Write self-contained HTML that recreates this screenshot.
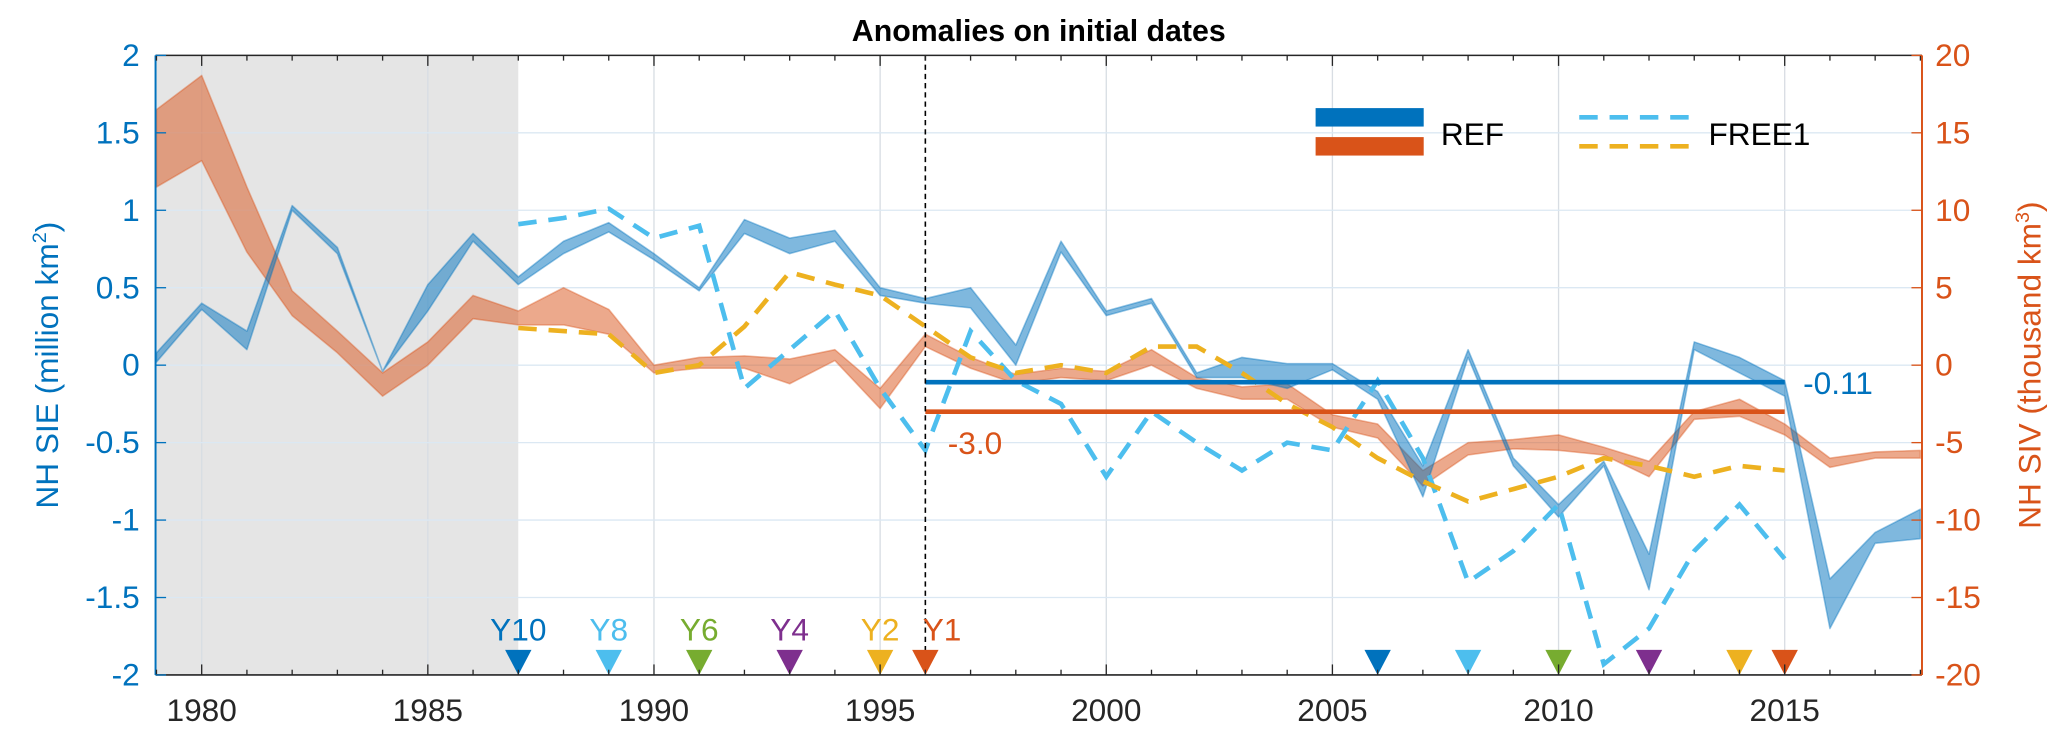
<!DOCTYPE html>
<html><head><meta charset="utf-8"><style>
html,body{margin:0;padding:0;background:#fff;}
svg{display:block;font-family:"Liberation Sans","DejaVu Sans",sans-serif;}
</style></head><body>
<svg id="chart" width="2067" height="743" viewBox="0 0 1568 563.6" preserveAspectRatio="none" xmlns="http://www.w3.org/2000/svg">
<g id="g"></g>
</svg>
<script>
const years = [];
for (let y = 1979; y <= 2018; y++) years.push(y);
const refSieHi = [0.08,0.40,0.22,1.03,0.76,-0.04,0.52,0.85,0.57,0.80,0.92,0.72,0.50,0.94,0.82,0.87,0.50,0.43,0.50,0.13,0.80,0.35,0.43,-0.05,0.05,0.01,0.01,-0.17,-0.65,0.10,-0.60,-0.90,-0.62,-1.22,0.15,0.05,-0.10,-1.38,-1.08,-0.93];
const refSieLo = [0.02,0.36,0.10,1.00,0.72,-0.04,0.35,0.80,0.52,0.72,0.86,0.68,0.48,0.85,0.72,0.80,0.45,0.40,0.37,0.00,0.73,0.32,0.40,-0.08,-0.08,-0.15,-0.03,-0.22,-0.85,0.05,-0.65,-0.98,-0.65,-1.45,0.10,-0.05,-0.20,-1.70,-1.15,-1.12];
const refSivHi = [16.5,18.7,11.5,4.8,2.2,-0.5,1.5,4.5,3.5,5.0,3.6,0.0,0.5,0.6,0.4,1.0,-1.5,2.0,0.5,-0.6,-0.2,-0.4,1.0,-0.8,-1.4,-1.2,-3.2,-3.8,-6.8,-5.0,-4.8,-4.5,-5.3,-6.2,-3.0,-2.2,-3.8,-6.0,-5.6,-5.5];
const refSivLo = [11.5,13.2,7.3,3.2,0.8,-2.0,0.0,3.0,2.6,2.6,2.0,-0.5,-0.2,-0.2,-1.2,0.3,-2.8,1.2,-0.2,-1.2,-0.8,-1.0,0.0,-1.5,-2.2,-2.2,-4.0,-4.7,-7.8,-5.8,-5.4,-5.5,-5.8,-7.2,-3.5,-3.3,-4.5,-6.6,-6.0,-6.0];
const freeYears = [];
for (let y = 1987; y <= 2015; y++) freeYears.push(y);
const freeSie = [0.91,0.95,1.01,0.82,0.90,-0.15,0.10,0.35,-0.15,-0.55,0.22,-0.10,-0.25,-0.72,-0.30,-0.50,-0.68,-0.50,-0.55,-0.10,-0.60,-1.40,-1.20,-0.90,-1.93,-1.70,-1.20,-0.90,-1.25];
const freeSiv = [2.4,2.2,2.0,-0.5,0.0,2.5,6.0,5.2,4.5,2.5,0.5,-0.5,0.0,-0.5,1.2,1.2,-0.5,-2.5,-4.0,-6.0,-7.5,-8.8,-8.0,-7.2,-6.0,-6.5,-7.2,-6.5,-6.8];
const meanSie = -0.11, meanSiv = -3.0;
const xTicks = [1980,1985,1990,1995,2000,2005,2010,2015];
const yLeftTicks = [2,1.5,1,0.5,0,-0.5,-1,-1.5,-2];
const yLeftLabels = ["2","1.5","1","0.5","0","-0.5","-1","-1.5","-2"];
const yRightTicks = [20,15,10,5,0,-5,-10,-15,-20];
const markerLabels = ["Y10","Y8","Y6","Y4","Y2","Y1"];
const markerYears1 = [1987,1989,1991,1993,1995,1996];
const markerYears2 = [2006,2008,2010,2012,2014,2015];
const markerColors = ["#0072BD","#4DBEEE","#77AC30","#7E2F8E","#EDB120","#D95319"];

const L=118, R=1458, T=42, B=512;
const X = yr => 153 + (yr-1980)*34.31;
const Y = v => 277 - v*117.5;
const YR = v => Y(v/10);
const g = document.getElementById('g');
const NS = "http://www.w3.org/2000/svg";
function mk(tag, attrs, parent){const e=document.createElementNS(NS,tag);for(const k in attrs)e.setAttribute(k,attrs[k]);(parent||g).appendChild(e);return e;}

let e = mk('rect',{x:L,y:T,width:X(1987)-L,height:B-T,fill:'#e5e5e5'});


xTicks.forEach(t=>{mk('line',{x1:X(t),x2:X(t),y1:T,y2:B,stroke:'#d8dde3','stroke-width':1});});
yLeftTicks.forEach(t=>{mk('line',{x1:L,x2:R,y1:Y(t),y2:Y(t),stroke:'#dbe8f3','stroke-width':1});});

function band(hi,lo,yrs,yf,color,op){
  let d='';
  yrs.forEach((yr,i)=>{d+=(i?'L':'M')+X(yr)+','+yf(hi[i]);});
  for(let i=yrs.length-1;i>=0;i--) d+='L'+X(yrs[i])+','+yf(lo[i]);
  return mk('path',{d:d+'Z',fill:color,'fill-opacity':op,stroke:color,'stroke-opacity':op*0.8,'stroke-width':1.2,'stroke-linejoin':'round'});
}
function line(vals,yrs,yf,color){
  let d='';
  yrs.forEach((yr,i)=>{d+=(i?'L':'M')+X(yr)+','+yf(vals[i]);});
  return mk('path',{d:d,fill:'none',stroke:color,'stroke-width':3.5,'stroke-dasharray':'14,9'});
}
e = band(refSivHi,refSivLo,years,YR,'#D95319',0.5);


e = band(refSieHi,refSieLo,years,Y,'#0072BD',0.5);


e = line(freeSie,freeYears,Y,'#4DBEEE');


e = line(freeSiv,freeYears,YR,'#EDB120');



e = mk('line',{x1:X(1996),x2:X(2015),y1:Y(meanSie),y2:Y(meanSie),stroke:'#0072BD','stroke-width':3.5});


e = mk('line',{x1:X(1996),x2:X(2015),y1:YR(meanSiv),y2:YR(meanSiv),stroke:'#D95319','stroke-width':3.5});


e = mk('text',{x:X(2015)+14,y:Y(meanSie)+9,fill:'#0072BD','font-size':24});
e.textContent=meanSie.toFixed(2);


e = mk('text',{x:X(1996)+17,y:YR(meanSiv)+32,fill:'#D95319','font-size':24});
e.textContent=meanSiv.toFixed(1);



e = mk('line',{x1:X(1996),x2:X(1996),y1:T,y2:B,stroke:'#000','stroke-width':1.2,'stroke-dasharray':'4,3'});



markerLabels.forEach((lab,i)=>{
  [markerYears1[i],markerYears2[i]].forEach((yr)=>{
    const x=X(yr);
    const t=mk('path',{d:`M${x-10},${B-19}L${x+10},${B-19}L${x},${B}Z`,fill:markerColors[i]});
    
    
  });
  const tx=mk('text',{x:X(markerYears1[i]),y:B-26,fill:markerColors[i],'font-size':24,'text-anchor':i==5?'start':'middle'});
  if(i==5) tx.setAttribute('x',X(markerYears1[i])-2);
  tx.textContent=lab;
  
  
});

mk('line',{x1:L,x2:R,y1:T,y2:T,stroke:'#262626','stroke-width':1.2});
mk('line',{x1:L,x2:R,y1:B,y2:B,stroke:'#262626','stroke-width':1.2});
e = mk('line',{x1:L,x2:L,y1:T,y2:B,stroke:'#0072BD','stroke-width':1.5});


e = mk('line',{x1:R,x2:R,y1:T,y2:B,stroke:'#D95319','stroke-width':1.5});


for(let yr=1979; yr<=2018; yr++){
  const big = yr%5==0;
  mk('line',{x1:X(yr),x2:X(yr),y1:B,y2:B-(big?8:4),stroke:'#262626','stroke-width':1});
  mk('line',{x1:X(yr),x2:X(yr),y1:T,y2:T+(big?8:4),stroke:'#262626','stroke-width':1});
}
xTicks.forEach(t=>{
  const tx=mk('text',{x:X(t),y:B+35,'font-size':24,'text-anchor':'middle',fill:'#262626'});
  tx.textContent=t;
  
  
});
yLeftTicks.forEach((t,i)=>{
  mk('line',{x1:L,x2:L+8,y1:Y(t),y2:Y(t),stroke:'#0072BD','stroke-width':1});
  const tx=mk('text',{x:L-12,y:Y(t)+8,'font-size':24,'text-anchor':'end',fill:'#0072BD'});
  tx.textContent=yLeftLabels[i];
  
  
});
yRightTicks.forEach(t=>{
  mk('line',{x1:R,x2:R-8,y1:YR(t),y2:YR(t),stroke:'#D95319','stroke-width':1});
  const tx=mk('text',{x:R+10,y:YR(t)+8,'font-size':24,'text-anchor':'start',fill:'#D95319'});
  tx.textContent=t;
  
  
});
</script>
<svg style="position:absolute;left:0;top:0" width="2067" height="743" viewBox="0 0 1568 563.6" preserveAspectRatio="none" xmlns="http://www.w3.org/2000/svg" font-family="Liberation Sans, DejaVu Sans, sans-serif">
<text x="788" y="31" font-size="23" font-weight="bold" text-anchor="middle" fill="#000">Anomalies on initial dates</text>
<text transform="translate(44,277) rotate(-90)" font-size="24" text-anchor="middle" fill="#0072BD">NH SIE (million km<tspan font-size="15" dy="-9">2</tspan><tspan dy="9">)</tspan></text>
<text transform="translate(1548,277) rotate(-90)" font-size="24" text-anchor="middle" fill="#D95319">NH SIV (thousand km<tspan font-size="15" dy="-9">3</tspan><tspan dy="9">)</tspan></text>
<g>
<rect x="998" y="82" width="82" height="14" fill="#0072BD"/>
<rect x="998" y="104" width="82" height="14" fill="#D95319"/>
<text x="1093" y="110" font-size="24" fill="#000">REF</text>
<line x1="1198" x2="1282" y1="89" y2="89" stroke="#4DBEEE" stroke-width="3.5" stroke-dasharray="14,9"/>
<line x1="1198" x2="1282" y1="111" y2="111" stroke="#EDB120" stroke-width="3.5" stroke-dasharray="14,9"/>
<text x="1296" y="110" font-size="24" fill="#000">FREE1</text>
</g>
</svg>
</body></html>
